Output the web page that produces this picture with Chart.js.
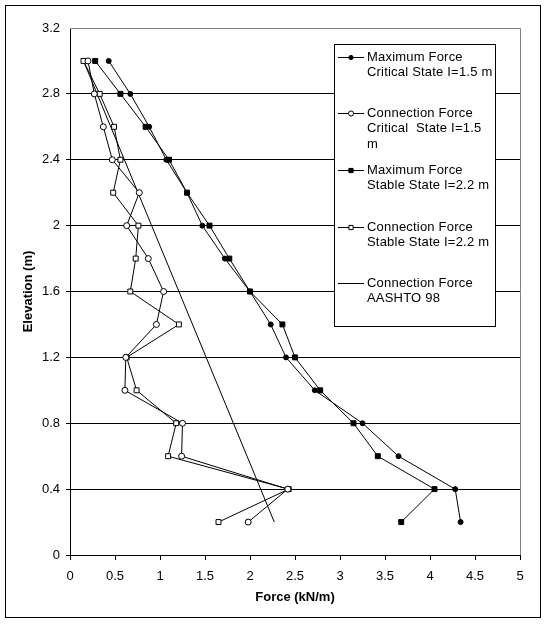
<!DOCTYPE html>
<html>
<head>
<meta charset="utf-8">
<script src="https://cdn.jsdelivr.net/npm/chart.js@4/dist/chart.umd.min.js"></script>
<style>
  body { margin: 0; background: #fff; }
  canvas { display: block; }
</style>
</head>
<body>
<canvas id="chart" width="547" height="624"></canvas>
<script>
// Elevation levels (m) and force readings (kN/m) per series
const elevation = [3.0, 2.8, 2.6, 2.4, 2.2, 2.0, 1.8, 1.6, 1.4, 1.2, 1.0, 0.8, 0.6, 0.4, 0.2];
const maxCritical = [0.43, 0.67, 0.88, 1.07, 1.30, 1.47, 1.72, 2.00, 2.23, 2.40, 2.72, 3.25, 3.65, 4.28, 4.34];
const connCritical = [0.20, 0.27, 0.37, 0.47, 0.77, 0.63, 0.87, 1.04, 0.96, 0.62, 0.61, 1.25, 1.24, 2.42, 1.98];
const maxStable = [0.28, 0.56, 0.84, 1.10, 1.30, 1.55, 1.77, 2.00, 2.36, 2.50, 2.78, 3.15, 3.42, 4.05, 3.68];
const connStable = [0.15, 0.33, 0.49, 0.56, 0.48, 0.76, 0.73, 0.67, 1.21, 0.63, 0.74, 1.18, 1.09, 2.43, 1.65];
const aashtoElev = [3.0, 0.2];
const aashto = [0.15, 2.27];

const xTicks = [0, 0.5, 1, 1.5, 2, 2.5, 3, 3.5, 4, 4.5, 5];
const yTicks = [0, 0.4, 0.8, 1.2, 1.6, 2, 2.4, 2.8, 3.2];

const legendLabels = [
  ['Maximum Force', 'Critical State I=1.5 m'],
  ['Connection Force', 'Critical  State I=1.5', 'm'],
  ['Maximum Force', 'Stable State I=2.2 m'],
  ['Connection Force', 'Stable State I=2.2 m'],
  ['Connection Force', 'AASHTO 98']
];

const FONT = 'Arial, "Liberation Sans", sans-serif';

function pts(xs, ys) {
  return xs.map((x, i) => ({ x: x, y: ys[i] }));
}

function series(label, xs, ys, style, radius, fill) {
  return {
    label: label,
    data: pts(xs, ys),
    showLine: true,
    borderColor: '#000',
    borderWidth: 1,
    pointStyle: style,
    pointRadius: radius,
    pointHoverRadius: radius,
    pointBackgroundColor: fill,
    pointBorderColor: '#000',
    pointBorderWidth: 1
  };
}

// frame, plot border and the boxed legend
const decor = {
  id: 'decor',
  beforeDraw(chart) {
    const ctx = chart.ctx;
    ctx.save();
    ctx.fillStyle = '#fff';
    ctx.fillRect(0, 0, chart.width, chart.height);
    ctx.restore();
  },
  afterDatasetsDraw(chart) {
    const ctx = chart.ctx;
    const a = chart.chartArea;
    ctx.save();
    ctx.strokeStyle = '#808080';
    ctx.lineWidth = 1;
    ctx.beginPath();
    ctx.moveTo(a.left, a.top + 0.5);
    ctx.lineTo(a.right + 0.5, a.top + 0.5);
    ctx.lineTo(a.right + 0.5, a.bottom);
    ctx.stroke();

    ctx.strokeStyle = '#000';
    ctx.strokeRect(5.5, 5.5, 535, 612);

    // legend box
    const bx = 334.5, by = 44.5, bw = 161, bh = 282;
    ctx.fillStyle = '#fff';
    ctx.fillRect(bx, by, bw, bh);
    ctx.strokeRect(bx, by, bw, bh);

    const rows = [57, 113, 170, 227, 283];
    ctx.font = '13px ' + FONT;
    ctx.letterSpacing = '0.2px';
    ctx.textBaseline = 'middle';
    chart.data.datasets.forEach((ds, i) => {
      const y = rows[i];
      ctx.strokeStyle = '#000';
      ctx.lineWidth = 1;
      ctx.beginPath();
      ctx.moveTo(338, y + 0.5);
      ctx.lineTo(364, y + 0.5);
      ctx.stroke();
      if (ds.pointRadius > 0) {
        ctx.fillStyle = ds.pointBackgroundColor;
        ctx.strokeStyle = '#000';
        Chart.helpers.drawPoint(ctx, {
          pointStyle: ds.pointStyle,
          radius: ds.pointRadius * 0.85,
          borderWidth: 1,
          rotation: 0
        }, 351, y + 0.5);
      }
      ctx.fillStyle = '#000';
      legendLabels[i].forEach((t, j) => ctx.fillText(t, 367, y + j * 15.7));
    });
    ctx.restore();
  }
};

new Chart(document.getElementById('chart'), {
  type: 'scatter',
  data: {
    datasets: [
      series('Maximum Force Critical State I=1.5 m', maxCritical, elevation, 'circle', 2.5, '#000'),
      series('Connection Force Critical State I=1.5 m', connCritical, elevation, 'circle', 3, '#fff'),
      series('Maximum Force Stable State I=2.2 m', maxStable, elevation, 'rect', 3.5, '#000'),
      series('Connection Force Stable State I=2.2 m', connStable, elevation, 'rect', 3.5, '#fff'),
      series('Connection Force AASHTO 98', aashto, aashtoElev, 'circle', 0, '#000')
    ]
  },
  options: {
    responsive: false,
    animation: false,
    events: [],
    layout: { padding: { top: 28, right: 27, left: 0, bottom: 0 } },
    plugins: {
      legend: { display: false },
      tooltip: { enabled: false }
    },
    scales: {
      x: {
        type: 'linear',
        min: 0,
        max: 5,
        afterBuildTicks: s => { s.ticks = xTicks.map(v => ({ value: v })); },
        afterFit: s => { s.height = 69; },
        border: { color: '#000', width: 1 },
        grid: { drawOnChartArea: false, color: '#000', tickLength: 5 },
        ticks: {
          color: '#000',
          padding: 9,
          maxRotation: 0,
          font: { family: FONT, size: 13 },
          callback: v => String(v)
        },
        title: {
          display: true,
          text: 'Force (kN/m)',
          color: '#000',
          font: { family: FONT, size: 13, weight: 'bold' },
          padding: { top: 0, bottom: 19 }
        }
      },
      y: {
        type: 'linear',
        min: 0,
        max: 3.2,
        afterBuildTicks: s => { s.ticks = yTicks.map(v => ({ value: v })); },
        afterFit: s => { s.width = 70; },
        border: { color: '#000', width: 1 },
        grid: {
          color: c => (c.tick && c.tick.value === 3.2) ? 'rgba(0,0,0,0)' : '#000',
          tickLength: 4
        },
        ticks: {
          color: '#000',
          padding: 6,
          font: { family: FONT, size: 13 },
          callback: v => String(v)
        },
        title: {
          display: true,
          text: 'Elevation (m)',
          color: '#000',
          font: { family: FONT, size: 13, weight: 'bold' },
          padding: { top: 21, bottom: 0 }
        }
      }
    }
  },
  plugins: [decor]
});
</script>
</body>
</html>
